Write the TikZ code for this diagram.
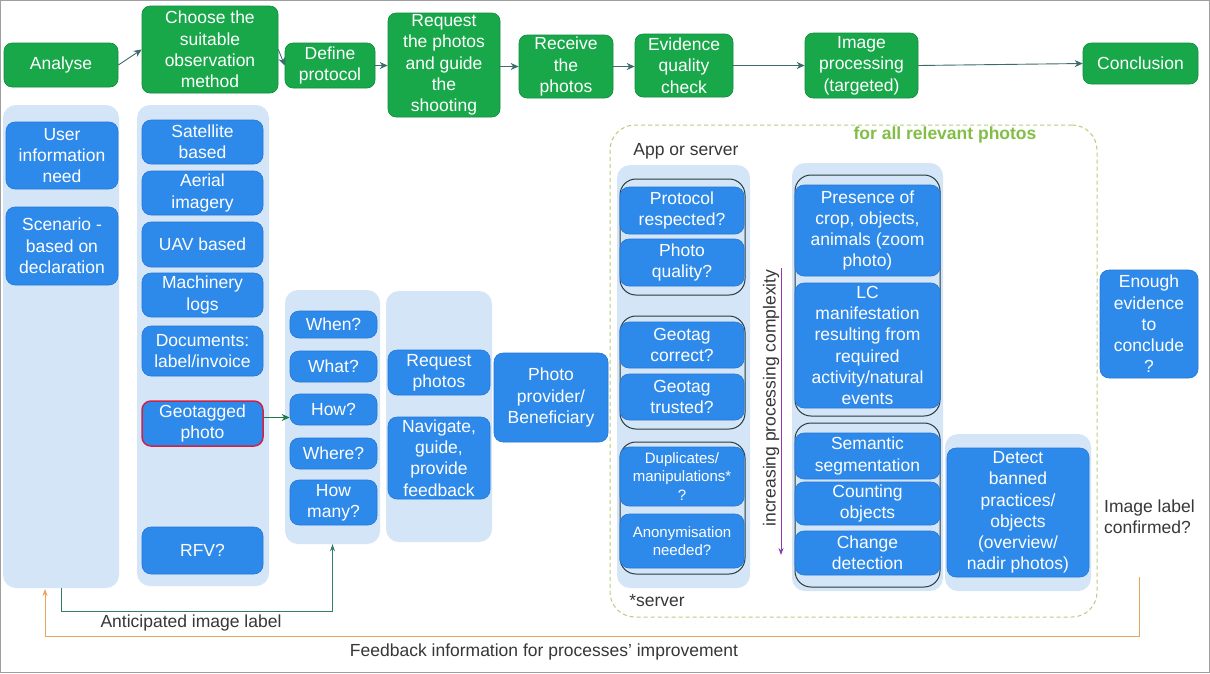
\documentclass[tikz,border=0pt]{standalone}
\usepackage{fontspec}
\setmainfont{Liberation Sans}
\usetikzlibrary{arrows.meta}
\definecolor{gbox}{RGB}{24,168,74}
\definecolor{gedge}{RGB}{14,140,60}
\definecolor{bbox}{RGB}{46,138,234}
\definecolor{bedge}{RGB}{36,118,214}
\definecolor{bgcol}{RGB}{211,229,247}
\definecolor{arrcol}{RGB}{62,108,108}
\definecolor{garr}{RGB}{28,120,70}
\definecolor{tealcol}{RGB}{50,125,110}
\definecolor{orangecol}{RGB}{230,165,90}
\definecolor{purplecol}{RGB}{140,60,170}
\definecolor{dashcol}{RGB}{185,205,125}
\definecolor{greentext}{RGB}{130,190,70}
\definecolor{ringcol}{RGB}{40,60,60}
\definecolor{redcol}{RGB}{205,35,70}
\definecolor{txtcol}{RGB}{55,55,55}
\newcommand\mkbox[7]{\node[#6, minimum width={#4-#2}, minimum height={#5-#3}] (#1) at ({(#2+#4)/2},{(#3+#5)/2}) {#7};}
\tikzset{
  base/.style={inner sep=0pt, align=center, font=\fontsize{17.5}{21.3}\selectfont, text=white},
  gbx/.style={base, fill=gbox, draw=gedge, line width=0.6pt, rounded corners=8pt},
  bbx/.style={base, fill=bbox, draw=bedge, line width=0.6pt, rounded corners=9pt},
  small/.style={font=\fontsize{15}{18.5}\selectfont},
  bgbx/.style={fill=bgcol, draw=none, rounded corners=13pt, inner sep=0pt},
  ring/.style={draw=ringcol, line width=1pt, rounded corners=16pt, inner sep=0pt},
  regionst/.style={draw=dashcol, line width=1pt, dash pattern=on 4pt off 3pt, rounded corners=25pt, inner sep=0pt},
  arr/.style={draw=arrcol, line width=0.9pt, -{Stealth[length=8pt,width=7pt]}},
  garrow/.style={draw=garr, line width=0.9pt, -{Stealth[length=8pt,width=7pt]}},
  tarrow/.style={draw=tealcol, line width=0.9pt, -{Stealth[length=7pt,width=5pt]}},
  oarrow/.style={draw=orangecol, line width=0.9pt, -{Stealth[length=7pt,width=5pt]}},
  parrow/.style={draw=purplecol, line width=0.9pt, -{Stealth[length=7pt,width=5pt]}},
  lbl/.style={inner sep=0pt, font=\fontsize{17.5}{21.3}\selectfont, text=txtcol},
}
\begin{document}
\begin{tikzpicture}[x=1pt,y=-1pt]
\useasboundingbox (0,0) rectangle (1210,673);
\fill[white] (0,0) rectangle (1210,673);
\draw[gray!75, line width=1pt] (0.5,0.5) rectangle (1209.5,672.5);

% top process
\mkbox{analyse}{4}{43}{118}{87}{gbx}{Analyse}
\mkbox{choose}{142}{6}{278}{93}{gbx}{Choose the\\suitable\\observation\\method}
\mkbox{define}{285}{43}{375}{88}{gbx}{Define\\protocol}
\mkbox{request}{388}{13}{500}{117}{gbx}{Request\\the photos\\and guide\\the\\shooting}
\mkbox{receive}{519}{35}{613}{98}{gbx}{Receive\\the\\photos}
\mkbox{evidence}{635}{34}{733}{97}{gbx}{Evidence\\quality\\check}
\mkbox{improc}{805}{33}{918}{98}{gbx}{Image\\processing\\(targeted)}
\mkbox{concl}{1083}{43}{1198}{84}{gbx}{Conclusion}

\draw[arr] (analyse.east) -- (choose.west);
\draw[arr] (choose.east) -- (define.west);
\draw[arr] (define.east) -- (request.west |- define.east);
\draw[arr] (request.east |- receive.west) -- (receive.west);
\draw[arr] (receive.east) -- (evidence.west |- receive.east);
\draw[arr] (evidence.east) -- (improc.west |- evidence.east);
\draw[arr] (improc.east) -- (concl.west);

% dashed region
\mkbox{region}{610}{125}{1097}{617}{regionst}{}
\node[inner sep=0pt, font=\bfseries\fontsize{17.5}{21.3}\selectfont, text=greentext] (allphotos) at (945,135) {for all relevant photos};
\node[lbl] (appserver) at (686,151) {App or server};
\node[lbl] (servernote) at (657,601) {*server};

% column backgrounds
\mkbox{col1}{3}{105}{119}{588}{bgbx}{}
\mkbox{col2}{137}{105}{269}{586}{bgbx}{}
\mkbox{col3}{285}{290}{380}{544}{bgbx}{}
\mkbox{col4}{386}{291}{492}{542}{bgbx}{}
\mkbox{col5}{617}{165}{750}{588}{bgbx}{}
\mkbox{col6}{792}{163}{943}{591}{bgbx}{}
\mkbox{col7}{945}{434}{1091}{591}{bgbx}{}

% rings
\mkbox{ringA}{620}{179}{745}{295}{ring}{}
\mkbox{ringB}{620}{316}{745}{429}{ring}{}
\mkbox{ringC}{620}{442}{745}{574}{ring}{}
\mkbox{ringD}{795}{175}{940}{416}{ring}{}
\mkbox{ringE}{795}{423}{940}{587}{ring}{}

% column 1
\mkbox{user}{6}{122}{118}{189}{bbx}{User\\information\\need}
\mkbox{scen}{6}{207}{118}{285}{bbx}{Scenario -\\based on\\declaration}
% column 2
\mkbox{sat}{142}{120}{263}{164}{bbx}{Satellite\\based}
\mkbox{aerial}{142}{171}{263}{215}{bbx}{Aerial\\imagery}
\mkbox{uav}{142}{222}{263}{267}{bbx}{UAV based}
\mkbox{mach}{142}{273}{263}{317}{bbx}{Machinery\\logs}
\mkbox{docs}{142}{326}{263}{376}{bbx}{Documents:\\label/invoice}
\mkbox{geo}{142}{401}{263}{446}{bbx,draw=redcol,line width=1.5pt}{Geotagged\\photo}
\mkbox{rfv}{142}{527}{263}{574}{bbx}{RFV?}
% column 3
\mkbox{when}{290}{311}{377}{338}{bbx}{When?}
\mkbox{what}{290}{351}{377}{382}{bbx}{What?}
\mkbox{how}{290}{394}{377}{425}{bbx}{How?}
\mkbox{where}{290}{438}{377}{469}{bbx}{Where?}
\mkbox{howmany}{290}{480}{377}{525}{bbx}{How\\many?}
% column 4
\mkbox{reqph}{388}{350}{490}{395}{bbx}{Request\\photos}
\mkbox{nav}{388}{417}{490}{499}{bbx}{Navigate,\\guide,\\provide\\feedback}
\mkbox{provider}{494}{353}{608}{442}{bbx}{Photo\\provider/\\Beneficiary}

\draw[garrow] ([yshift=6pt]geo.east) -- ([yshift=6pt]geo.east -| how.west);

% column 5
\mkbox{protocol}{620}{187}{744}{234}{bbx}{Protocol\\respected?}
\mkbox{quality}{620}{239}{744}{286}{bbx}{Photo\\quality?}
\mkbox{geocorr}{620}{322}{744}{368}{bbx}{Geotag\\correct?}
\mkbox{geotrust}{620}{374}{744}{420}{bbx}{Geotag\\trusted?}
\mkbox{dupl}{620}{447}{744}{506}{bbx,small}{Duplicates/\\manipulations*\\?}
\mkbox{anon}{620}{514}{744}{568}{bbx,small}{Anonymisation\\needed?}

% complexity arrow
\node[lbl, rotate=90] (cplx) at (771,398) {increasing processing complexity};
\coordinate (pa) at (781,268);
\coordinate (pb) at (781,555);
\draw[parrow] (pa) -- (pb);

% column 6
\mkbox{presence}{795}{185}{940}{276}{bbx}{Presence of\\crop, objects,\\animals (zoom\\photo)}
\mkbox{lc}{795}{283}{940}{408}{bbx}{LC\\manifestation\\resulting from\\required\\activity/natural\\events}
\mkbox{semantic}{795}{433}{940}{479}{bbx}{Semantic\\segmentation}
\mkbox{counting}{795}{482}{940}{525}{bbx}{Counting\\objects}
\mkbox{change}{795}{531}{940}{575}{bbx}{Change\\detection}
% column 7
\mkbox{detect}{947}{448}{1089}{577}{bbx}{Detect\\banned\\practices/\\objects\\(overview/\\nadir photos)}

\mkbox{enough}{1100}{270}{1198}{378}{bbx}{Enough\\evidence\\to\\conclude\\?}
\node[lbl, align=left, anchor=west] (imglabel) at (1104,517) {Image label\\confirmed?};

% feedback loops
\draw[tarrow] (col1.south) -- ++(0,23) -| (col3.south);
\node[lbl] (anticip) at (191,623) {Anticipated image label};
\coordinate (fbs) at (1139,577);
\coordinate (fbe) at (45,589);
\draw[oarrow] (fbs) -- ++(0,59) -| (fbe);
\node[lbl] (feedback) at (544,652) {Feedback information for processes’ improvement};
\end{tikzpicture}
\end{document}
